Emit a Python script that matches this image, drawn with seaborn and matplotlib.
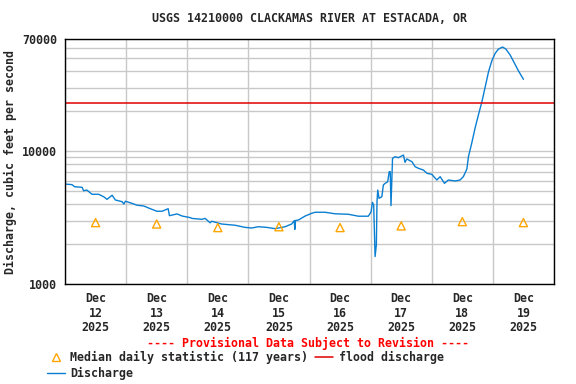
import pandas as pd
import numpy as np
import seaborn as sns
import matplotlib.pyplot as plt
import matplotlib.ticker as mticker
from matplotlib.lines import Line2D

# Discharge readings (hours after Dec 12 00:00, cfs)
hours = [0, 2.75, 3.8, 6.7, 7.3, 8.6, 10.6, 13.2, 15.2, 16.5,
         18.5, 19.8, 22.4, 23.1, 23.7, 26.3, 28.3, 30.9, 33.5, 36.1,
         38.1, 40.5, 41.0, 44.0, 46.0, 49.2, 49.8, 53.7, 55.0, 57.0,
         57.6, 61.5, 66.8, 70.7, 73.3, 75.9, 79.2, 82.5, 86.4, 89.0,
         90.0, 90.25, 90.5, 91.6, 94.3, 96.9, 98.2, 102.1, 106.0, 111.3,
         115.2, 119.1, 120.2, 120.7, 121.2, 121.75, 122.25, 122.5, 122.8, 123.3,
         124.4, 125.0, 125.7, 126.7, 127.3, 127.7, 128.0, 128.6, 129.6, 130.9,
         132.9, 133.5, 134.2, 136.2, 137.5, 138.8, 140.7, 142.1, 144.0, 146.0,
         147.3, 149.0, 150.5, 153.2, 155.1, 156.4, 157.8, 158.4, 159.7, 161.0,
         162.3, 163.7, 165.0, 166.3, 167.6, 168.9, 170.2, 171.8, 173.1, 174.8,
         176.5, 178.0, 180.0]
cfs = [5660, 5600, 5400, 5350, 5040, 5100, 4740, 4740, 4540, 4340,
       4660, 4290, 4170, 4000, 4200, 4050, 3920, 3870, 3690, 3530,
       3530, 3690, 3270, 3370, 3250, 3160, 3120, 3070, 3120, 2890,
       2970, 2830, 2770, 2670, 2640, 2700, 2670, 2610, 2700, 2830,
       3000, 2580, 3010, 3030, 3250, 3410, 3470, 3470, 3380, 3350,
       3240, 3240, 3500, 4120, 3940, 1610, 1970, 4170, 5100, 4420,
       4540, 5570, 5730, 5890, 7010, 7010, 3890, 8840, 9090, 8940,
       9360, 8250, 8740, 8340, 7640, 7430, 7220, 6820, 6700, 6070,
       6430, 5730, 6070, 5970, 6070, 6430, 7350, 9090, 11500, 14900,
       18700, 23600, 30600, 39700, 48000, 54600, 58800, 60900, 58800, 53000,
       45900, 40400, 34800]

# Median daily statistic, one per day (plotted at noon)
days = ['2025-12-12', '2025-12-13', '2025-12-14', '2025-12-15',
        '2025-12-16', '2025-12-17', '2025-12-18', '2025-12-19']
median_cfs = [2900, 2830, 2660, 2700, 2660, 2740, 2950, 2900]

flood_cfs = 23100
y_ticks = [1000, 10000, 70000]

start = pd.Timestamp('2025-12-12 00:00')
flow = pd.DataFrame({'time': start + pd.to_timedelta(hours, unit='h'), 'cfs': cfs})
med = pd.DataFrame({'time': pd.to_datetime(days) + pd.Timedelta(hours=12), 'cfs': median_cfs})

sns.set_style('white')
plt.rcParams['font.family'] = ['DejaVu Sans Mono']
plt.rcParams['font.weight'] = 'bold'
FS = 8.4

fig = plt.figure(figsize=(5.76, 3.84), dpi=100)
ax = fig.add_axes([65 / 576, 1 - 284 / 384, 489 / 576, 245 / 384])

blue = '#0a7fd2'
sns.lineplot(data=flow, x='time', y='cfs', ax=ax, color=blue, linewidth=1.0)
ax.axhline(flood_cfs, color='#e00000', linewidth=1.1)
sns.scatterplot(data=med, x='time', y='cfs', ax=ax, marker='^', s=34,
                facecolors='none', edgecolors='orange', linewidth=1.0, zorder=3)

ax.set_yscale('log')
ax.set_ylim(1000, 70000)
ax.set_xlim(pd.Timestamp('2025-12-12'), pd.Timestamp('2025-12-20'))

# y axis: only three labelled values, minor log gridlines
ax.yaxis.set_major_locator(mticker.FixedLocator(y_ticks))
ax.yaxis.set_major_formatter(mticker.FixedFormatter([str(v) for v in y_ticks]))
ax.yaxis.set_minor_locator(mticker.LogLocator(base=10, subs=np.arange(2, 10)))
ax.yaxis.set_minor_formatter(mticker.NullFormatter())

# x axis: gridlines at midnight, labels at noon
midnights = pd.date_range('2025-12-12', '2025-12-20', freq='D')
ax.set_xticks(midnights)
ax.set_xticklabels([''] * len(midnights))
ax.set_xticks(med['time'], minor=True)
ax.set_xticklabels([f"Dec\n{d[-2:]}\n2025" for d in days], minor=True,
                   linespacing=1.12)

ax.grid(True, which='major', color='#c8c8c8', linewidth=1.0)
ax.grid(True, which='minor', axis='y', color='#c8c8c8', linewidth=1.0)
ax.tick_params(axis='both', which='both', length=0, labelsize=FS)
ax.tick_params(axis='y', pad=5.5)
ax.tick_params(axis='x', which='minor', pad=6)
for s in ax.spines.values():
    s.set_color('black')
    s.set_linewidth(1.0)

ax.set_xlabel('')
ax.set_ylabel('Discharge, cubic feet per second', fontsize=FS, fontweight='bold')
ax.yaxis.set_label_coords(-0.098, 0.5)
fig.text(309.5 / 576, 1 - 19 / 384, 'USGS 14210000 CLACKAMAS RIVER AT ESTACADA, OR',
         ha='center', va='center', fontsize=FS, fontweight='bold')
fig.text(308 / 576, 1 - 343 / 384, '---- Provisional Data Subject to Revision ----',
         ha='center', va='center', fontsize=FS, fontweight='bold', color='red')

handles = [
    Line2D([], [], linestyle='none', marker='^', markersize=6,
           markerfacecolor='none', markeredgecolor='orange', markeredgewidth=1.0),
    Line2D([], [], color=blue, linewidth=1.0),
    Line2D([], [], color='#e00000', linewidth=1.1),
]
labels = ['Median daily statistic (117 years)', 'Discharge', 'flood discharge']
fig.legend(handles, labels, loc='upper left', bbox_to_anchor=(47 / 576, 1 - 350.5 / 384),
           ncol=2, frameon=False, fontsize=FS, borderpad=0, borderaxespad=0,
           handlelength=1.55, handletextpad=0.45, columnspacing=0.6, labelspacing=0.3)

fig.savefig('out.png', dpi=100)
